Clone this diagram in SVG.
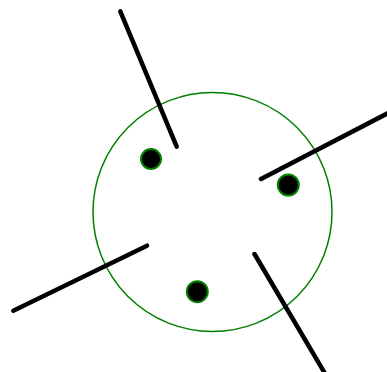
<svg xmlns="http://www.w3.org/2000/svg" width="387" height="372" viewBox="0 0 387 372">
<style>
.ln{stroke:#000;stroke-width:4.5;stroke-linecap:round;fill:none}
.dot{fill:#000;stroke:#008000;stroke-width:2}
</style>
<rect width="387" height="372" fill="#fff"/>
<g id="circle"><circle cx="212.5" cy="212" r="119.5" fill="none" stroke="#008000" stroke-width="1.5"/></g>
<g id="connectors">
<line class="ln" x1="120.3" y1="11.3" x2="176.7" y2="146.7"/>
<line class="ln" x1="261" y1="179" x2="392" y2="111"/>
<line class="ln" x1="147" y1="245.7" x2="13.3" y2="310.7"/>
<line class="ln" x1="254.5" y1="254" x2="330" y2="382"/>
</g>
<g id="dot1"><circle class="dot" cx="151" cy="159" r="10"/></g>
<g id="dot2"><circle class="dot" cx="288.3" cy="185" r="10.5"/></g>
<g id="dot3"><circle class="dot" cx="197.3" cy="291.7" r="10.5"/></g>
</svg>
